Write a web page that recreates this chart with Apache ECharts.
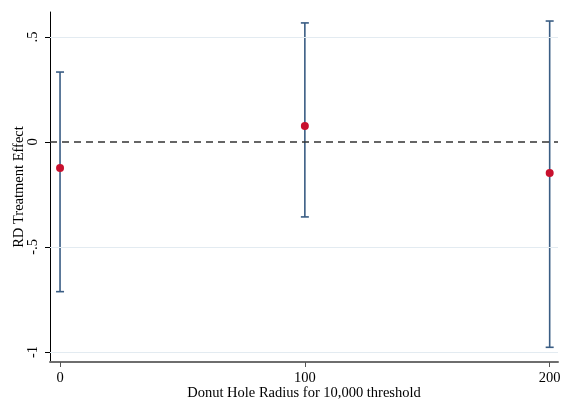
<!DOCTYPE html>
<html>
<head>
<meta charset="utf-8">
<script src="https://cdn.jsdelivr.net/npm/echarts@6/dist/echarts.min.js"></script>
<style>
  html, body { margin: 0; padding: 0; background: #fff; }
  #chart { width: 561px; height: 403px; }
</style>
</head>
<body>
<div id="chart"></div>
<script>
// donut hole radius and RD estimates with 95% CI
const radius = [0, 100, 200];
const estimate = [-0.124, 0.076, -0.148];
const ciLow = [-0.713, -0.357, -0.978];
const ciHigh = [0.333, 0.567, 0.576];

const xTicks = [0, 100, 200];
const yTicks = [-1, -0.5, 0, 0.5];
const gridValues = [-1, -0.5, 0.5];

const FONT = '"Liberation Serif", "DejaVu Serif", serif';

function fmtY(v) {
    // stata style: .5, -.5
    let s = String(v);
    return s.replace(/^(-?)0\./, '$1.');
}

var myChart = echarts.init(document.getElementById('chart'));
var option;

option = {
    animation: false,
    textStyle: { fontFamily: FONT },
    grid: {
        left: 50,
        right: 3,
        top: 12,
        bottom: 41,
        containLabel: false,
        outerBoundsMode: 'none'
    },
    xAxis: {
        type: 'value',
        min: -4.1,
        max: 203.4,
        name: 'Donut Hole Radius for 10,000 threshold',
        nameLocation: 'middle',
        nameGap: 24,
        nameMoveOverlap: false,
        nameTextStyle: { fontFamily: FONT, fontSize: 14.5, color: '#000' },
        axisLine: { show: true, onZero: false, lineStyle: { color: '#6e6e6e', width: 2 } },
        axisTick: { show: true, length: 5, lineStyle: { color: '#555', width: 1 }, customValues: xTicks },
        axisLabel: { customValues: xTicks, fontFamily: FONT, fontSize: 14.5, color: '#000', margin: 9 },
        splitLine: { show: false }
    },
    yAxis: {
        type: 'value',
        min: -1.048,
        max: 0.619,
        name: 'RD Treatment Effect',
        nameLocation: 'middle',
        nameGap: 23,
        nameMoveOverlap: false,
        nameRotate: 90,
        nameTextStyle: { fontFamily: FONT, fontSize: 14.5, color: '#000' },
        axisLine: { show: true, onZero: false, lineStyle: { color: '#000', width: 1 } },
        axisTick: { show: true, length: 5, lineStyle: { color: '#000', width: 1 }, customValues: yTicks },
        axisLabel: {
            customValues: yTicks,
            rotate: 90,
            fontFamily: FONT,
            fontSize: 14.5,
            color: '#000',
            margin: 9,
            formatter: fmtY
        },
        splitLine: { show: false }
    },
    series: [
        {
            type: 'line',
            data: [],
            silent: true,
            markLine: {
                silent: true,
                symbol: 'none',
                label: { show: false },
                lineStyle: { color: '#e3ebf1', width: 1, type: 'solid' },
                data: gridValues.map(v => ({ yAxis: v }))
            }
        },
        {
            type: 'line',
            data: [],
            silent: true,
            markLine: {
                silent: true,
                symbol: 'none',
                label: { show: false },
                lineStyle: { color: '#333', width: 1.5, type: [7, 5] },
                data: [{ yAxis: 0 }]
            }
        },
        {
            type: 'custom',
            name: 'ci',
            data: radius.map((r, i) => [r, ciLow[i], ciHigh[i]]),
            renderItem: function (params, api) {
                const x = api.value(0);
                const lo = api.coord([x, api.value(1)]);
                const hi = api.coord([x, api.value(2)]);
                const cap = 4;
                const style = { stroke: '#3a5d84', lineWidth: 1.6 };
                return {
                    type: 'group',
                    children: [
                        { type: 'line', shape: { x1: lo[0], y1: lo[1], x2: hi[0], y2: hi[1] }, style: style },
                        { type: 'line', shape: { x1: lo[0] - cap, y1: lo[1], x2: lo[0] + cap, y2: lo[1] }, style: style },
                        { type: 'line', shape: { x1: hi[0] - cap, y1: hi[1], x2: hi[0] + cap, y2: hi[1] }, style: style }
                    ]
                };
            },
            z: 3
        },
        {
            type: 'scatter',
            name: 'estimate',
            data: radius.map((r, i) => [r, estimate[i]]),
            symbol: 'circle',
            symbolSize: 8,
            itemStyle: { color: '#c8102e', opacity: 1 },
            z: 4
        }
    ]
};

option && myChart.setOption(option);
</script>
</body>
</html>
